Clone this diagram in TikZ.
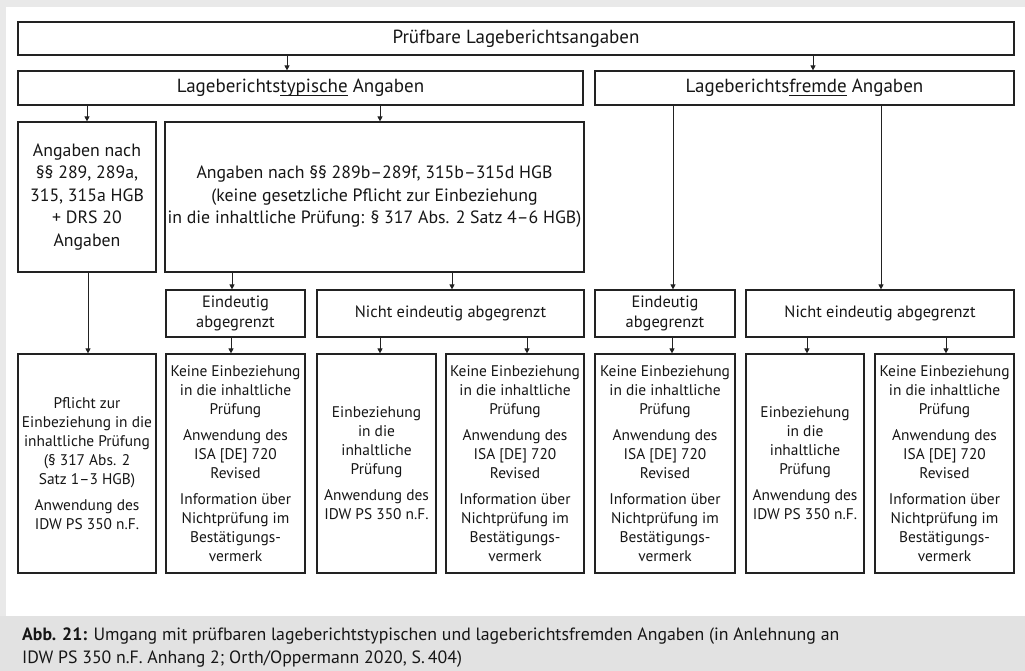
\documentclass[tikz,border=0pt]{standalone}
\usepackage{fontspec}
\setmainfont{PT Sans}
\newfontfamily\capfont{PT Sans}
\usetikzlibrary{arrows.meta}
\definecolor{bordgray}{HTML}{E9E9E9}
\definecolor{capgray}{HTML}{E2E2E2}
\definecolor{linec}{HTML}{222222}
\definecolor{txt}{HTML}{161616}
\newcommand\myul[1]{\setbox0\hbox{#1}\rlap{\rule[-3.4pt]{\wd0}{0.8pt}}\box0\relax}
\tikzset{
  boxst/.style={draw=linec, line width=1.2pt, inner sep=0pt, align=center, text=txt},
  fA/.style={font=\fontsize{19}{22}\selectfont},
  fB/.style={font=\fontsize{17.8}{22.5}\selectfont},
  fC/.style={font=\fontsize{16.4}{19.5}\selectfont},
  fD/.style={font=\fontsize{15.4}{19}\selectfont},
  arr/.style={draw=linec, line width=0.9pt, -{Triangle[length=5pt,width=5pt]}},
  capst/.style={anchor=base west, inner sep=0pt, text=txt, font=\capfont\fontsize{17.8}{22}\selectfont},
}
\newcommand\bx[7]{%
  \node[boxst,#7, minimum width={(#4)-(#2)}, minimum height={(#5)-(#3)}] (#1)
    at ({((#2)+(#4))/2},{((#3)+(#5))/2}) {#6};}
\begin{document}
\begin{tikzpicture}[x=1pt,y=-1pt]
\useasboundingbox (0,0) rectangle (1025,671);
\fill[bordgray] (0,0) rectangle (1025,671);
\fill[white] (6,7) rectangle (1025,616);
\fill[capgray] (0,616) rectangle (1025,671);
% boxes
\bx{t0}{18}{22}{1014}{55}{Prüfbare Lageberichtsangaben}{fA}
\bx{t1}{18}{71}{583}{105}{Lageberichts\myul{typische} Angaben}{fA}
\bx{t2}{595}{71}{1014}{105}{Lageberichts\myul{fremde} Angaben}{fA}
\bx{a1}{18}{122}{156}{272}{Angaben nach\\§§ 289, 289a,\\315, 315a HGB\\+ DRS 20\\Angaben}{fB}
\bx{a2}{165}{122}{584}{272}{Angaben nach §§ 289b–289f, 315b–315d HGB\\(keine gesetzliche Pflicht zur Einbeziehung\\in die inhaltliche Prüfung: § 317 Abs. 2 Satz 4–6 HGB)}{fB}
\bx{e1}{166}{290}{305}{337}{Eindeutig\\abgegrenzt}{fC}
\bx{n1}{317}{290}{584}{337}{Nicht eindeutig abgegrenzt}{fC}
\bx{e2}{595}{290}{735}{337}{Eindeutig\\abgegrenzt}{fC}
\bx{n2}{746}{290}{1014}{337}{Nicht eindeutig abgegrenzt}{fC}
\bx{p}{18}{354}{156}{573}{Pflicht zur\\Einbeziehung in die\\inhaltliche Prüfung\\(§ 317 Abs. 2\\Satz 1–3 HGB)\\[7pt]Anwendung des\\IDW PS 350 n.F.}{fD}
\bx{k1}{166}{354}{305}{573}{Keine Einbeziehung\\in die inhaltliche\\Prüfung\\[7pt]Anwendung des\\ISA [DE] 720\\Revised\\[7pt]Information über\\Nichtprüfung im\\Bestätigungs-\\vermerk}{fD}
\bx{b1}{317}{354}{436}{573}{Einbeziehung\\in die\\inhaltliche\\Prüfung\\[7pt]Anwendung des\\IDW PS 350 n.F.}{fD}
\bx{k2}{446}{354}{584}{573}{Keine Einbeziehung\\in die inhaltliche\\Prüfung\\[7pt]Anwendung des\\ISA [DE] 720\\Revised\\[7pt]Information über\\Nichtprüfung im\\Bestätigungs-\\vermerk}{fD}
\bx{k3}{595}{354}{735}{573}{Keine Einbeziehung\\in die inhaltliche\\Prüfung\\[7pt]Anwendung des\\ISA [DE] 720\\Revised\\[7pt]Information über\\Nichtprüfung im\\Bestätigungs-\\vermerk}{fD}
\bx{b2}{746}{354}{864}{573}{Einbeziehung\\in die\\inhaltliche\\Prüfung\\[7pt]Anwendung des\\IDW PS 350 n.F.}{fD}
\bx{k4}{875}{354}{1014}{573}{Keine Einbeziehung\\in die inhaltliche\\Prüfung\\[7pt]Anwendung des\\ISA [DE] 720\\Revised\\[7pt]Information über\\Nichtprüfung im\\Bestätigungs-\\vermerk}{fD}
% connectors
\draw[arr] (t0.south -| 287,0) -- (t1.north -| 287,0);
\draw[arr] (t0.south -| 813,0) -- (t2.north -| 813,0);
\draw[arr] (t1.south -| 87,0) -- (a1.north -| 87,0);
\draw[arr] (t1.south -| 380,0) -- (a2.north -| 380,0);
\draw[arr] (a1.south -| 88,0) -- (p.north -| 88,0);
\draw[arr] (a2.south -| 232,0) -- (e1.north -| 232,0);
\draw[arr] (a2.south -| 452,0) -- (n1.north -| 452,0);
\draw[arr] (t2.south -| 673,0) -- (e2.north -| 673,0);
\draw[arr] (t2.south -| 881,0) -- (n2.north -| 881,0);
\draw[arr] (e1.south -| 231,0) -- (k1.north -| 231,0);
\draw[arr] (n1.south -| 380,0) -- (b1.north -| 380,0);
\draw[arr] (n1.south -| 527,0) -- (k2.north -| 527,0);
\draw[arr] (e2.south -| 672,0) -- (k3.north -| 672,0);
\draw[arr] (n2.south -| 807,0) -- (b2.north -| 807,0);
\draw[arr] (n2.south -| 946,0) -- (k4.north -| 946,0);
% caption
\node[capst] (cap1) at (22,640) {\textbf{Abb. 21:} Umgang mit prüfbaren lageberichtstypischen und lageberichtsfremden Angaben (in Anlehnung an};
\node[capst] (cap2) at (22,663) {IDW PS 350 n.F. Anhang 2; Orth/Oppermann 2020, S.\,404)};
\end{tikzpicture}
\end{document}
